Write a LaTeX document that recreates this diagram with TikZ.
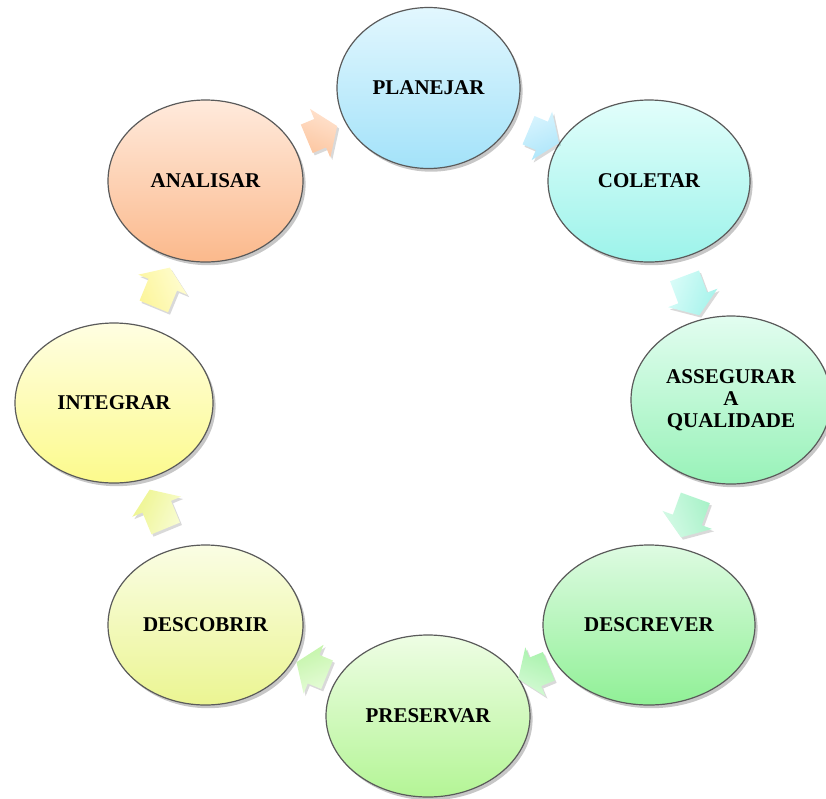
\documentclass[tikz,border=0pt]{standalone}
\usepackage{fontspec}
\setmainfont{Liberation Serif}
\usetikzlibrary{shapes.geometric,shapes.arrows,shadows,calc}

\definecolor{planT}{HTML}{E2F7FE}\definecolor{planB}{HTML}{A3E2F9}
\definecolor{colT}{HTML}{E2FEFB}\definecolor{colB}{HTML}{9CF3EA}
\definecolor{assT}{HTML}{E2FDF0}\definecolor{assB}{HTML}{98F2B8}
\definecolor{desT}{HTML}{DEFBE2}\definecolor{desB}{HTML}{90F096}
\definecolor{preT}{HTML}{EEFDE4}\definecolor{preB}{HTML}{B4F596}
\definecolor{dscT}{HTML}{FAFDE4}\definecolor{dscB}{HTML}{EBF592}
\definecolor{intT}{HTML}{FFFEE2}\definecolor{intB}{HTML}{FCFA8C}
\definecolor{anaT}{HTML}{FFEADC}\definecolor{anaB}{HTML}{FBB98C}
\definecolor{edge}{HTML}{5A5A5A}

\begin{document}
\begin{tikzpicture}[x=0.5pt,y=-0.5pt,
  stage/.style={ellipse, draw=edge, line width=0.6pt, inner sep=0pt,
    font=\fontsize{10.5}{11}\selectfont\bfseries, align=center,
    drop shadow={shadow xshift=1.3pt, shadow yshift=-1.6pt, opacity=0.22, fill=black}},
  blockarrow/.style={single arrow, draw=none, inner xsep=0pt, inner ysep=7.5pt,
    single arrow head extend=5.5pt,
    single arrow tip angle=110,
    drop shadow={shadow xshift=1pt, shadow yshift=-1.2pt, opacity=0.15, fill=black}}
]
\useasboundingbox (0,0) rectangle (826,799);

\node[stage, minimum width=91.5pt, minimum height=80.5pt, top color=planT, bottom color=planB] (plan) at (428.5,88) {PLANEJAR};
\node[stage, minimum width=101pt, minimum height=81pt, top color=colT, bottom color=colB] (col) at (649,181) {COLETAR};
\node[stage, minimum width=100pt, minimum height=84pt, top color=assT, bottom color=assB] (ass) at (731,400) {ASSEGURAR\\A\\QUALIDADE};
\node[stage, minimum width=106pt, minimum height=80pt, top color=desT, bottom color=desB] (des) at (649,625) {DESCREVER};
\node[stage, minimum width=102pt, minimum height=81pt, top color=preT, bottom color=preB] (pre) at (428,716) {PRESERVAR};
\node[stage, minimum width=97.5pt, minimum height=80pt, top color=dscT, bottom color=dscB] (dsc) at (205.5,625) {DESCOBRIR};
\node[stage, minimum width=99pt, minimum height=80pt, top color=intT, bottom color=intB] (int) at (114,403) {INTEGRAR};
\node[stage, minimum width=97.5pt, minimum height=81pt, top color=anaT, bottom color=anaB] (ana) at (205.5,181) {ANALISAR};

\foreach \a/\b/\len/\ct/\cb in {plan/col/16.5/D8F4FE/AEE6FA, col/ass/21/D8FCF8/A6F3EB, ass/des/21/D4FAE6/A8F2C8,
    des/pre/16.5/D4FAD4/A8F2AC, pre/dsc/16.5/E6FCD8/C4F5AA, dsc/int/21/F8FCD0/EEF590,
    int/ana/21/FFFDD0/FCF59C, ana/plan/16.5/FFE2CE/FCC6A0}{
  \definecolor{arT}{HTML}{\ct}\definecolor{arB}{HTML}{\cb}
  \path let \p1=($(\b)-(\a)$), \n1={atan2(\y1,\x1)} in
    node[blockarrow, minimum height=\len pt, rotate=\n1, top color=arT, bottom color=arB, shading angle=-\n1]
      (arr-\a) at ($(\a)!0.5!(\b)$) {};
}
\end{tikzpicture}
\end{document}
